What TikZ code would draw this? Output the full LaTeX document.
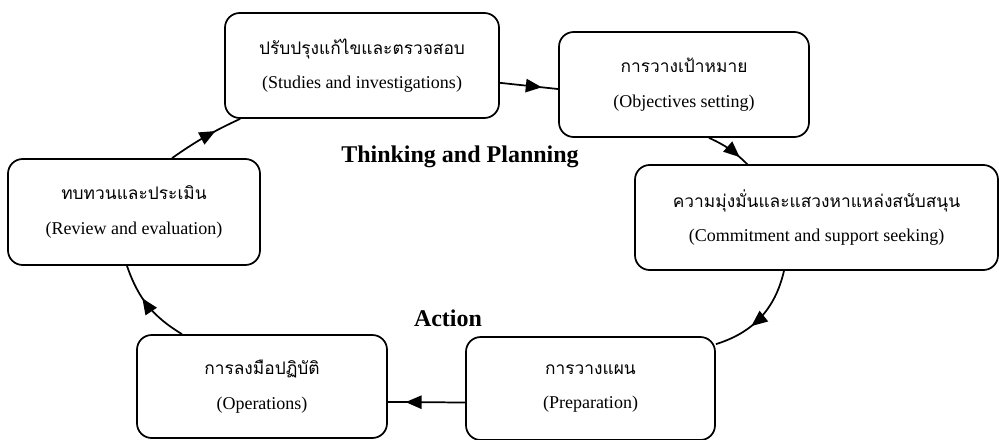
\documentclass[tikz,border=0pt]{standalone}
\usepackage{fontspec}
\setmainfont{Liberation Serif}
\newfontfamily\thaifont[Script=Thai]{Loma}
\usetikzlibrary{arrows.meta,decorations.markings}

\tikzset{
	stage/.style={draw, line width=1.3pt, rounded corners=11pt, align=center,
		inner sep=0pt, minimum height=78.75pt, font=\fontsize{13.5}{26}\selectfont},
	link/.style={line width=1.3pt, postaction={decorate},
		decoration={markings, mark=at position #1 with {\arrow{Triangle[length=12pt,width=10pt]}}}},
	phase/.style={font=\fontsize{18}{20}\selectfont\bfseries}
}
\newcommand{\stagetext}[2]{{\thaifont\fontsize{13}{26}\selectfont #1}\\ #2}

\begin{document}
\begin{tikzpicture}[x=0.75pt,y=-0.75pt]
	\useasboundingbox (0,0) rectangle (999,439);
	% Stages of the cycle
	\node[stage, minimum width=205.5pt] (studies) at (362,65.5) {\stagetext{ปรับปรุงแก้ไขและตรวจสอบ}{(Studies and investigations)}};
	\node[stage, minimum width=187.5pt] (objectives) at (684,84.5) {\stagetext{การวางเป้าหมาย}{(Objectives setting)}};
	\node[stage, minimum width=272.25pt] (commitment) at (816.5,217.5) {\stagetext{ความมุ่งมั่นและแสวงหาแหล่งสนับสนุน}{(Commitment and support seeking)}};
	\node[stage, minimum width=186.75pt, minimum height=77.25pt] (preparation) at (590.5,388.5) {\stagetext{การวางแผน}{(Preparation)}};
	\node[stage, minimum width=187.5pt, minimum height=77.25pt] (operations) at (262,386.5) {\stagetext{การลงมือปฏิบัติ}{(Operations)}};
	\node[stage, minimum width=189pt, minimum height=79.5pt] (evaluation) at (134,212) {\stagetext{ทบทวนและประเมิน}{(Review and evaluation)}};
	% Phases
	\node[phase] (thinking) at (460,157) {Thinking and Planning};
	\node[phase] (action) at (448,318) {Action};
	% Links
	\draw[link=0.72] ([yshift=-13pt]studies.east) -- ([yshift=-3.4pt]objectives.west);
	\draw[link=0.78] ([xshift=18.75pt]objectives.south) to[bend left=10] ([xshift=-52pt]commitment.north);
	\draw[link=0.62] ([xshift=-24.4pt]commitment.south) to[bend left=30] ([yshift=-6pt]preparation.north east);
	\draw[link=0.77] ([yshift=-10.5pt]preparation.west) -- ([yshift=-11.6pt]operations.east);
	\draw[link=0.6] ([xshift=-60pt]operations.north) to[bend left=20] ([xshift=-5.25pt]evaluation.south);
	\draw[link=0.65] ([xshift=28.5pt]evaluation.north) to[bend left=5] ([xshift=12pt]studies.south west);
\end{tikzpicture}
\end{document}
